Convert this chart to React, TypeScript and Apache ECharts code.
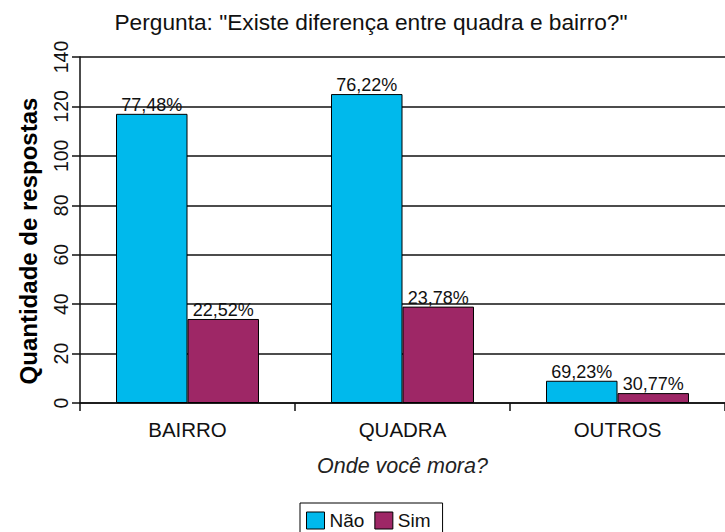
import React, { useEffect, useRef } from "react";
import * as echarts from "echarts";

const categories = ["BAIRRO", "QUADRA", "OUTROS"];
const naoValues = [117, 125, 9];
const simValues = [34, 39, 4];
const naoLabels = ["77,48%", "76,22%", "69,23%"];
const simLabels = ["22,52%", "23,78%", "30,77%"];
const yTicks = { min: 0, max: 140, interval: 20 };

const FONT = "Liberation Sans, Arial, sans-serif";

export default function App() {
  const ref = useRef<HTMLDivElement>(null);
  useEffect(() => {
    document.body.style.margin = "0";
    const chart = echarts.init(ref.current!, null, { renderer: "svg" });
    chart.setOption({
      animation: false,
      backgroundColor: "#ffffff",
      textStyle: { fontFamily: FONT },
      title: {
        text: 'Pergunta: "Existe diferença entre quadra e bairro?"',
        left: 366,
        textAlign: "center",
        top: 5,
        textStyle: { fontFamily: FONT, fontSize: 22.7, fontWeight: "normal", color: "#111" },
      },
      grid: { left: 80, top: 57, width: 650, height: 346 },
      legend: {
        left: 300,
        top: 503,
        data: ["Não", "Sim"],
        icon: "rect",
        itemWidth: 18,
        itemHeight: 17,
        itemGap: 10,
        padding: [8, 12, 5, 6],
        borderColor: "#000",
        borderWidth: 1,
        itemStyle: { borderColor: "#000", borderWidth: 1 },
        textStyle: { fontFamily: FONT, fontSize: 19, color: "#111" },
      },
      xAxis: {
        type: "category",
        data: categories,
        name: "Onde você mora?",
        nameLocation: "middle",
        nameGap: 52,
        nameTextStyle: { fontFamily: FONT, fontSize: 21.5, fontStyle: "italic", color: "#222" },
        axisLine: { lineStyle: { color: "#111", width: 1.5 } },
        axisTick: { show: true, length: 8, alignWithLabel: false, lineStyle: { color: "#111", width: 1.5 } },
        axisLabel: { fontFamily: FONT, fontSize: 20.5, color: "#111", margin: 16 },
      },
      yAxis: {
        type: "value",
        min: yTicks.min,
        max: yTicks.max,
        interval: yTicks.interval,
        name: "Quantidade de respostas",
        nameLocation: "middle",
        nameGap: 40,
        nameTextStyle: { fontFamily: FONT, fontSize: 24, fontWeight: "bold", color: "#000", padding: [0, 22, 0, 0] },
        axisLine: { show: true, lineStyle: { color: "#111", width: 1.5 } },
        axisTick: { show: true, length: 8, lineStyle: { color: "#111", width: 1.5 } },
        axisLabel: { rotate: 90, fontFamily: FONT, fontSize: 19.5, color: "#111", margin: 9 },
        splitLine: { show: true, lineStyle: { color: "#111", width: 1.5 } },
      },
      series: [
        {
          name: "Não",
          type: "bar",
          data: naoValues,
          barGap: "0%",
          barCategoryGap: "33.5%",
          itemStyle: { color: "#00B9EC", borderColor: "#000", borderWidth: 1 },
          label: {
            show: true,
            position: "top",
            distance: 0,
            fontFamily: FONT,
            fontSize: 18,
            color: "#111",
            formatter: (p: any) => naoLabels[p.dataIndex],
          },
        },
        {
          name: "Sim",
          type: "bar",
          data: simValues,
          barGap: "0%",
          barCategoryGap: "33.5%",
          itemStyle: { color: "#9E2766", borderColor: "#000", borderWidth: 1 },
          label: {
            show: true,
            position: "top",
            distance: 0,
            fontFamily: FONT,
            fontSize: 18,
            color: "#111",
            formatter: (p: any) => simLabels[p.dataIndex],
          },
        },
      ],
    });
    return () => chart.dispose();
  }, []);
  return <div ref={ref} style={{ position: "absolute", left: 0, top: 0, width: 725, height: 532 }} />;
}
